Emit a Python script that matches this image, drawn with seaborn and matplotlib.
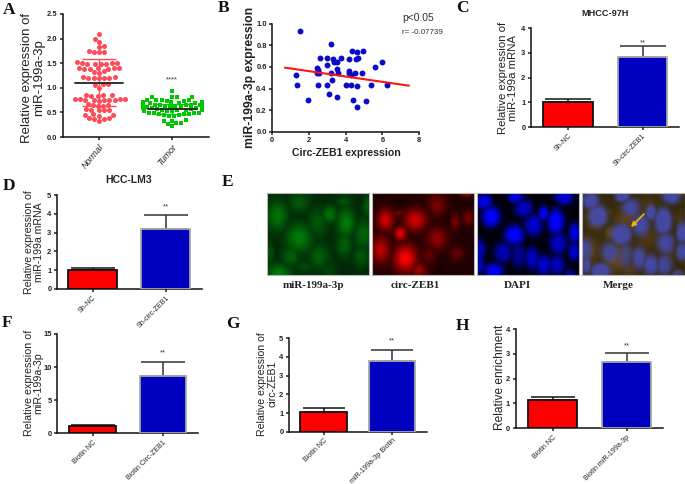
import numpy as np, pandas as pd, matplotlib
matplotlib.use("Agg")
import matplotlib.pyplot as plt
import seaborn as sns

sns.set_theme(style="ticks")
plt.rcParams['font.family'] = ['Liberation Sans', 'DejaVu Sans']
W, H = 685, 484
RED, BLUE, GREEN = "#fe0000", "#0000c0", "#00c800"
PINK = "#ff4a58"

# ---- Panel A
normal = [2.10,2.00,1.94,1.84,1.83,1.74,1.73,1.73,1.72,
          1.52,1.51,1.50,1.50,1.49,1.48,1.48,1.48,
          1.40,1.40,1.40,1.40,1.39,1.39,1.39,
          1.35,1.33,1.30,
          1.21,1.21,1.20,1.20,1.20,1.19,1.19,
          1.08,1.07,1.06,1.00,
          0.86,0.85,0.85,0.84,0.84,
          0.78,0.78,0.77,0.77,0.76,0.76,0.76,0.75,0.75,0.74,
          0.67,0.66,0.65,0.64,0.64,
          0.56,0.55,0.55,0.54,0.54,
          0.46,0.44,0.44,0.43,0.38,0.38,0.37,0.36,0.32]
tumor = [0.93,0.82,0.82,0.81,0.81,0.76,0.76,0.75,0.75,0.74,0.74,
         0.72,0.72,0.71,0.71,0.70,0.70,0.70,0.69,0.69,
         0.67,0.67,0.66,0.66,0.66,0.65,0.65,0.65,0.64,0.64,
         0.62,0.62,0.61,0.61,0.60,0.60,0.60,0.59,0.59,0.58,
         0.56,0.56,0.55,0.55,0.54,0.54,0.53,0.53,0.52,
         0.49,0.49,0.48,0.48,0.47,0.47,0.46,0.44,0.44,0.43,0.42,
         0.35,0.33,0.32,0.29,0.28,0.27,0.22]
a_cats = ["Normal", "Tumor"]
a_means = [1.10, 0.57]
a_sd = [0.48, 0.10]

# ---- Panel B
b_x = [1.49,1.29,1.35,1.95,2.45,2.50,2.45,2.56,2.49,2.60,3.00,2.96,2.96,3.07,3.22,3.22,3.25,3.31,3.38,3.51,
       3.51,3.60,3.51,3.76,4.00,4.20,4.20,4.20,4.31,4.31,4.36,4.60,4.51,4.56,4.67,4.60,4.40,4.60,4.93,4.91,
       5.09,5.40,5.58,5.98,6.25]
b_y = [.93,.525,.436,.29,.593,.57,.547,.547,.436,.683,.683,.62,.436,.346,.816,.547,.479,.67,.646,.646,
       .58,.547,.32,.683,.436,.677,.565,.547,.525,.433,.745,.742,.547,.67,.683,.426,.297,.229,.75,.547,
       .28,.436,.596,.646,.436]
b_line_x = [0.69, 7.45]
b_line_y = [0.593, 0.426]

# ---- Bar panels
c_cats = ["Sh-NC", "Sh-circ-ZEB1"];      c_vals = [1.02, 2.82]; c_tops = [1.12, 3.30]
d_cats = ["Sh-NC", "Sh-circ-ZEB1"];      d_vals = [1.02, 3.17]; d_tops = [1.12, 3.95]
f_cats = ["Biotin NC", "Biotin Circ-ZEB1"]; f_vals = [1.05, 8.60]; f_tops = [1.20, 10.7]
g_cats = ["Biotin NC", "miR-199a-3p Biotin"]; g_vals = [1.08, 3.80]; g_tops = [1.25, 4.40]
h_cats = ["Biotin NC", "Biotin miR-199a-3p"]; h_vals = [1.12, 2.67]; h_tops = [1.28, 3.05]

# ---- Panel E micrograph cells: centre x, centre y, radius x, radius y, brightness
green_cells = [(30,70,25,35,.55),(95,30,25,25,.35),(187,65,18,20,.55),(235,90,22,35,.6),(150,90,25,35,.35),
               (95,135,32,35,.6),(288,125,22,35,.45),(230,155,20,30,.4),(70,190,22,25,.4),(155,190,25,30,.4),
               (35,240,28,22,.6),(282,190,20,25,.35),(230,28,20,15,.3),(300,40,12,25,.35),(110,220,20,15,.25),
               (8,180,10,25,.3),(185,230,20,25,.2)]
red_cells = [(40,80,22,28,.8),(130,80,30,28,.8),(85,120,16,18,.9),(195,35,25,30,.4),(100,195,30,35,1.0),
             (25,170,25,35,.7),(195,135,28,30,.5),(250,85,12,22,.4),(290,75,15,18,.4),(140,230,22,20,.55),
             (170,185,20,25,.3),(255,180,20,20,.3),(80,60,25,8,.35),(285,5,15,5,.5)]
blue_cells = [(42,70,25,28,1),(20,25,22,22,.9),(115,12,20,15,.9),(140,45,24,25,.75),(200,60,14,20,.95),
              (170,95,24,30,.8),(237,85,23,35,1.0),(112,125,27,27,1),(262,10,25,22,.85),(293,120,15,28,.9),
              (245,150,24,30,.75),(78,178,24,28,.7),(125,185,20,35,.55),(165,195,20,30,.75),(200,215,22,28,.8),
              (240,215,22,28,.7),(50,232,26,20,.95),(5,170,18,30,.7),(8,215,12,25,.75),(292,175,15,25,.8),
              (280,240,15,10,.6)]
e_names = ["miR-199a-3p", "circ-ZEB1", "DAPI", "Merge"]


def axpx(l, t, r, b):
    return fig.add_axes([l / W, 1 - b / H, (r - l) / W, (b - t) / H])


def style(ax, tick=6, lw=1.1):
    sns.despine(ax=ax)
    for s in ("left", "bottom"):
        ax.spines[s].set_linewidth(lw)
        ax.spines[s].set_color("#111111")
    ax.tick_params(length=2.5, width=lw, pad=1.5, labelsize=tick, colors="#222222")
    for t in ax.get_xticklabels() + ax.get_yticklabels():
        t.set_fontweight("bold")


def ylab(ax, text, xc, size, ycpx, weight="normal"):
    box = ax.get_position()
    ax.set_ylabel(text, fontsize=size, va="center", ha="center", linespacing=1.0,
                  fontweight=weight, color="#222222")
    fx = (xc / W - box.x0) / box.width
    fy = ((1 - ycpx / H) - box.y0) / box.height
    ax.yaxis.set_label_coords(fx, fy)


def bars(box, centers, barw, cats, vals, tops, ymax, yticks, label, lab_x, lab_y, lab_size, star_y):
    l, t, r, b = box
    ax = axpx(l, t, r, b)
    df = pd.DataFrame({"cat": cats, "val": vals})
    sp = centers[1] - centers[0]
    sns.barplot(data=df, x="cat", y="val", hue="cat", order=cats, hue_order=cats, palette=[RED, BLUE],
                width=barw / sp, legend=False, ax=ax, saturation=1, errorbar=None,
                edgecolor="#111111", linewidth=1.3, zorder=3)
    ax.patches[1].set_edgecolor("#a8a8a8")
    for i, (v, top, col) in enumerate(zip(vals, tops, ["#111111", "#333333"])):
        ax.errorbar(i, v, yerr=[[0], [top - v]], color=col, capsize=barw * 0.33,
                    elinewidth=1.1, capthick=1.1, zorder=2)
    ax.set_xlim((l - centers[0]) / sp, (r - centers[0]) / sp)
    ax.set_ylim(0, ymax)
    ax.set_yticks(yticks)
    ax.set_xlabel("")
    ax.set_xticks([0, 1])
    ax.set_xticklabels(cats, rotation=45, ha="right", rotation_mode="anchor")
    style(ax, tick=5.4)
    for tl in ax.get_xticklabels():
        tl.set_fontweight("normal")
        tl.set_fontsize(5.1)
    ax.text(1, star_y, "**", ha="center", va="center", fontsize=5.5, color="#333333")
    ylab(ax, label, lab_x, lab_size, lab_y)
    return ax


fig = plt.figure(figsize=(W / 100, H / 100), dpi=100, facecolor="white")

# Panel A
axA = axpx(63, 14, 209, 137)
sns.swarmplot(x=["Normal"] * len(normal), y=normal, order=a_cats, color=PINK, marker="o",
              size=3.6, linewidth=0, ax=axA, zorder=2)
sns.swarmplot(x=["Tumor"] * len(tumor), y=tumor, order=a_cats, color=GREEN, marker="s",
              size=3.5, linewidth=0, ax=axA, zorder=2)
for i, (m, s, c) in enumerate(zip(a_means, a_sd, [PINK, GREEN])):
    axA.errorbar(i, m, yerr=s, color=c, capsize=12, elinewidth=1, capthick=1, zorder=3)
    axA.plot([i - 0.33, i + 0.33], [m, m], color="#222222", lw=1.3, zorder=4)
axA.set_xlim(-0.49, 1.5)
axA.set_ylim(0, 2.5)
axA.set_yticks([0, .5, 1, 1.5, 2, 2.5])
axA.set_yticklabels(["0.0", "0.5", "1.0", "1.5", "2.0", "2.5"])
axA.set_xticks([0, 1])
axA.set_xticklabels(a_cats, rotation=50, ha="right", rotation_mode="anchor")
style(axA, tick=5.4)
for tl in axA.get_xticklabels():
    tl.set_fontstyle("italic")
    tl.set_fontweight("normal")
    tl.set_fontsize(6.4)
axA.text(1, 1.16, "****", ha="center", va="center", fontsize=5.5, color="#333333")
ylab(axA, "Relative expression of\nmiR-199a-3p", 33, 9.5, 78)

# Panel B
axB = axpx(272.3, 23.7, 419, 131.7)
sns.scatterplot(x=b_x, y=b_y, color="#0a0ac8", s=18, linewidth=0, ax=axB, zorder=3)
sns.lineplot(x=b_line_x, y=b_line_y, color="#fa1414", lw=1.5, ax=axB, errorbar=None, zorder=4)
axB.set_xlim(0, 8)
axB.set_ylim(0, 1)
axB.set_xticks([0, 2, 4, 6, 8])
axB.set_yticks([0, .2, .4, .6, .8, 1])
axB.set_yticklabels(["0.0", "0.2", "0.4", "0.6", "0.8", "1.0"])
style(axB, tick=5.4)
ylab(axB, "miR-199a-3p expression", 250, 8.8, 77.5, "bold")
axB.set_xlabel("")
fig.text(346 / W, 1 - 153 / H, "Circ-ZEB1 expression", fontsize=7.6, fontweight="bold", ha="center",
         va="center", color="#222222")
fig.text(418 / W, 1 - 18 / H, "p<0.05", fontsize=7.4, ha="center", va="center", color="#333333")
fig.text(422 / W, 1 - 32 / H, "r= -0.07739", fontsize=5.8, ha="center", va="center", color="#333333")

# Bar panels
bars((531, 28.3, 679, 127), (568, 642.5), 49.3, c_cats, c_vals, c_tops, 4, [0, 1, 2, 3, 4],
     "Relative expression of\nmiR-199a mRNA", 507.5, 77.5, 8.2, 3.42)
bars((57, 195.3, 202, 288.7), (92.7, 165.7), 48.7, d_cats, d_vals, d_tops, 5, [0, 1, 2, 3, 4, 5],
     "Relative expression of\nmiR-199a mRNA", 33.5, 242.5, 7.6, 4.4)
bars((57.3, 334, 198, 433.3), (92.5, 163), 47, f_cats, f_vals, f_tops, 15, [0, 5, 10, 15],
     "Relative expression of\nmiR-199a-3p", 33.5, 383, 7.7, 12.1)
bars((289, 338.3, 426.7, 431.7), (323.5, 392.3), 46.2, g_cats, g_vals, g_tops, 5, [0, 1, 2, 3, 4, 5],
     "Relative expression of\ncirc-ZEB1", 267, 384, 7.6, 4.85)
bars((515.7, 329, 663, 428.3), (552.7, 626.5), 48.8, h_cats, h_vals, h_tops, 4, [0, 1, 2, 3, 4],
     "Relative enrichment", 500, 377.5, 8.6, 3.3)
fig.text(605 / W, 1 - 13 / H, "MHCC-97H", fontsize=6.6, fontweight="bold", ha="center", va="center", color="#222222")
fig.text(129 / W, 1 - 180 / H, "HCC-LM3", fontsize=7.5, fontweight="bold", ha="center", va="center", color="#222222")


# Panel E micrographs
def field(cells, sharp=1.0, dx=0, grow=1.0):
    yy, xx = np.mgrid[0:246:2, 0:307:2]
    out = np.zeros_like(xx, dtype=float)
    for cx, cy, rx, ry, amp in cells:
        r2 = ((xx - cx - dx) / (rx * grow)) ** 2 + ((yy - cy) / (ry * grow)) ** 2
        out = np.maximum(out, amp * np.exp(-r2 ** sharp))
    return out


gf = field(green_cells, 1.0, grow=1.25)
rf = field(red_cells, 1.0, grow=1.15)
bf = field(blue_cells, 1.6, grow=1.15)
mb = field(blue_cells, 1.6, dx=5, grow=1.15)
zero = np.zeros_like(gf)
img_g = np.dstack([zero, 0.15 + 0.55 * gf, 0.03 + zero])
img_r = np.dstack([0.12 + 0.88 * rf, zero, zero])
img_b = np.dstack([zero, zero, 0.04 + 0.96 * bf])
brown = np.dstack([0.20 + 0.22 * rf, 0.15 + 0.12 * rf + 0.05 * gf, 0.05 + 0.03 * rf])
nuc = np.array([0.27, 0.29, 0.66])
m = np.clip(mb * 1.25, 0, 0.95)[..., None]
img_m = np.clip(brown * (1 - m) + nuc * m, 0, 1)
boxes = [(267, 192.7, 369.3, 275), (372, 193.3, 474, 275.3), (477, 193.3, 579, 275.3), (582, 192.7, 684.7, 275)]
for box, im in zip(boxes, [img_g, img_r, img_b, img_m]):
    ax = axpx(*box)
    ax.imshow(im, aspect="auto", interpolation="bilinear", extent=(box[0], box[2], box[3], box[1]))
    ax.set_xticks([]); ax.set_yticks([])
    for s in ax.spines.values():
        s.set_color("#b5b5b5"); s.set_linewidth(0.8)
    if im is img_m:
        ax.annotate("", xy=(629, 229), xytext=(646, 212),
                    arrowprops=dict(arrowstyle="-|>", color="#f2b200", lw=1.2, mutation_scale=7))
for name, xc, yc in zip(e_names, [314, 415, 517, 618], [286, 286, 286, 285]):
    fig.text(xc / W, 1 - yc / H, name, family=['Liberation Serif'], fontweight="bold", fontsize=8,
             ha="center", va="center", color="#222222")

# Panel letters
for ch, x, y in [("A", 3, 10), ("B", 218, 8), ("C", 456, 8), ("D", 3, 186), ("E", 222, 182),
                 ("F", 2, 323), ("G", 226, 324), ("H", 456, 326)]:
    fig.text(x / W, 1 - y / H, ch, family=['Liberation Serif'], fontweight="bold", fontsize=12.5,
             ha="left", va="center", color="#111111")

fig.savefig("out.png", dpi=100, facecolor="white")
